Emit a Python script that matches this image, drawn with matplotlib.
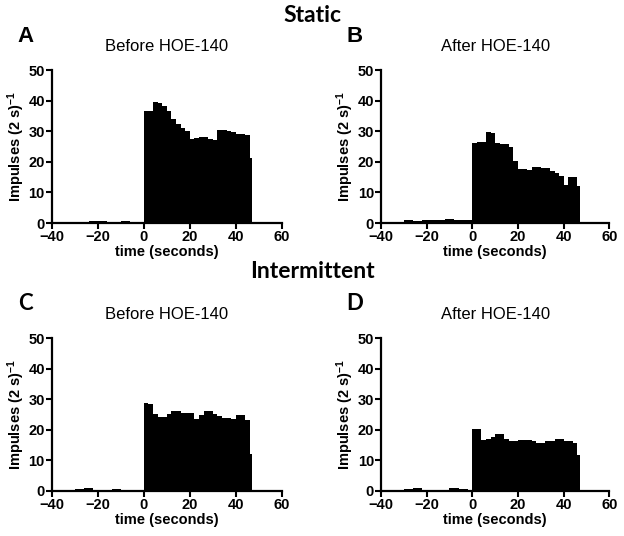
import numpy as np
import matplotlib
matplotlib.use("Agg")
import matplotlib.pyplot as plt

plt.rcParams['font.family'] = ['Liberation Sans', 'DejaVu Sans']
plt.rcParams['mathtext.fontset'] = 'custom'
plt.rcParams['mathtext.rm'] = 'Liberation Sans:bold'
plt.rcParams['mathtext.it'] = 'Liberation Sans:bold'
plt.rcParams['mathtext.bf'] = 'Liberation Sans:bold'

# ---- data (impulses per 2 s bin) ----
bin_width = 2
last_bin_width = 1

# pre-stimulus bins (start time, values)
A_pre_start = -32
A_pre = [0.2, 0.4, 0.4, 0.4, 0.5, 0.5, 0.5, 0.5, 0.4, 0.4, 0.4, 0.5, 0.5, 0.4, 0.4, 0.2]
B_pre_start = -32
B_pre = [0.3, 0.9, 0.9, 0.6, 0.6, 1.1, 1.1, 1.1, 1.1, 0.9, 1.2, 1.2, 0.9, 1.0, 1.0, 1.0]
C_pre_start = -30
C_pre = [0.5, 0.5, 0.9, 0.9, 0.2, 0.2, 0.2, 0.2, 0.5, 0.5, 0.4, 0.4, 0.4, 0.4, 0.4]
D_pre_start = -32
D_pre = [0.2, 0.6, 0.6, 0.9, 0.9, 0.45, 0.45, 0.45, 0.45, 0.45, 0.45, 0.9, 0.9, 0.6, 0.6, 0.3]

# stimulus bins from 0 s to 46 s (2 s wide), plus final 46-47 s bin
A_post = [36.6, 36.6, 39.5, 39.2, 38.2, 36.6, 33.9, 32.2, 30.9, 30.1, 27.6, 27.9,
          28.1, 28.1, 27.6, 27.2, 30.5, 30.5, 30.2, 29.7, 29.2, 29.1, 28.6]
A_last = 21.1
B_post = [26.0, 26.5, 26.5, 29.7, 29.5, 26.0, 25.8, 25.8, 24.7, 20.4, 17.6, 17.6,
          17.3, 18.2, 18.2, 18.0, 18.0, 16.9, 16.4, 15.3, 12.3, 15.1, 15.1]
B_last = 12.2
C_post = [28.8, 28.5, 25.1, 24.2, 24.2, 25.1, 26.1, 26.1, 25.4, 25.4, 25.4, 23.4,
          24.8, 26.1, 26.0, 25.3, 24.5, 23.8, 23.8, 23.4, 24.7, 24.7, 23.1]
C_last = 12.2
D_post = [20.2, 20.2, 16.7, 17.0, 17.5, 18.6, 18.6, 17.0, 16.2, 16.2, 16.7, 16.7,
          16.7, 16.5, 15.6, 15.8, 16.5, 16.5, 16.9, 16.9, 16.5, 16.5, 15.6]
D_last = 11.8

panel_letters = ['A', 'B', 'C', 'D']
panel_titles = ['Before HOE-140', 'After HOE-140', 'Before HOE-140', 'After HOE-140']
section_titles = ['Static', 'Intermittent']
x_ticks = [-40, -20, 0, 20, 40, 60]
y_ticks = [0, 10, 20, 30, 40, 50]
x_label = 'time (seconds)'
y_label = 'Impulses (2 s)$^{-1}$'

W, H = 624, 536
fig = plt.figure(figsize=(W / 100, H / 100), dpi=100)

# axes rectangles in pixels: left, right, top, bottom
rects = [(51.7, 281.7, 70, 223), (381, 609.3, 70, 223),
         (51.7, 281.7, 338, 491), (381, 609.3, 338, 491)]

panels = [(A_pre_start, A_pre, A_post, A_last),
          (B_pre_start, B_pre, B_post, B_last),
          (C_pre_start, C_pre, C_post, C_last),
          (D_pre_start, D_pre, D_post, D_last)]

letter_fonts = ['Liberation Sans', 'Liberation Sans', 'Lato', 'Lato']

for i, ((l, r, t, b), (ps, pre, post, last)) in enumerate(zip(rects, panels)):
    ax = fig.add_axes([l / W, 1 - b / H, (r - l) / W, (b - t) / H])
    pre_edges = ps + bin_width * np.arange(len(pre))
    post_edges = bin_width * np.arange(len(post))
    ax.bar(pre_edges, pre, width=bin_width, align='edge', color='black', linewidth=0)
    ax.bar(post_edges, post, width=bin_width, align='edge', color='black', linewidth=0)
    ax.bar([post_edges[-1] + bin_width], [last], width=last_bin_width, align='edge',
           color='black', linewidth=0)
    ax.set_xlim(-40, 60)
    ax.set_ylim(0, 50)
    ax.set_xticks(x_ticks)
    ax.set_yticks(y_ticks)
    for s in ['top', 'right']:
        ax.spines[s].set_visible(False)
    for s in ['left', 'bottom']:
        ax.spines[s].set_linewidth(1.6)
    ax.tick_params(direction='out', length=4, width=1.5, labelsize=10.5, pad=1)
    for lab in ax.get_xticklabels() + ax.get_yticklabels():
        lab.set_fontweight('bold')
    ax.set_xlabel(x_label, fontsize=10.5, fontweight='bold', labelpad=1)
    ax.set_ylabel(y_label, fontsize=10.5, fontweight='bold', labelpad=1)
    ax.set_title(panel_titles[i], fontsize=12, pad=14)
    fig.text((l - 26) / W, 1 - (t - 34) / H, panel_letters[i], fontsize=16,
             fontweight='bold', family=letter_fonts[i], ha='center', va='center')

fig.text(312 / W, 1 - 16 / H, section_titles[0], fontsize=16.5, fontweight='bold',
         family='Lato', ha='center', va='center')
fig.text(312 / W, 1 - 272 / H, section_titles[1], fontsize=16.5, fontweight='bold',
         family='Lato', ha='center', va='center')

fig.savefig('out.png', dpi=100)
